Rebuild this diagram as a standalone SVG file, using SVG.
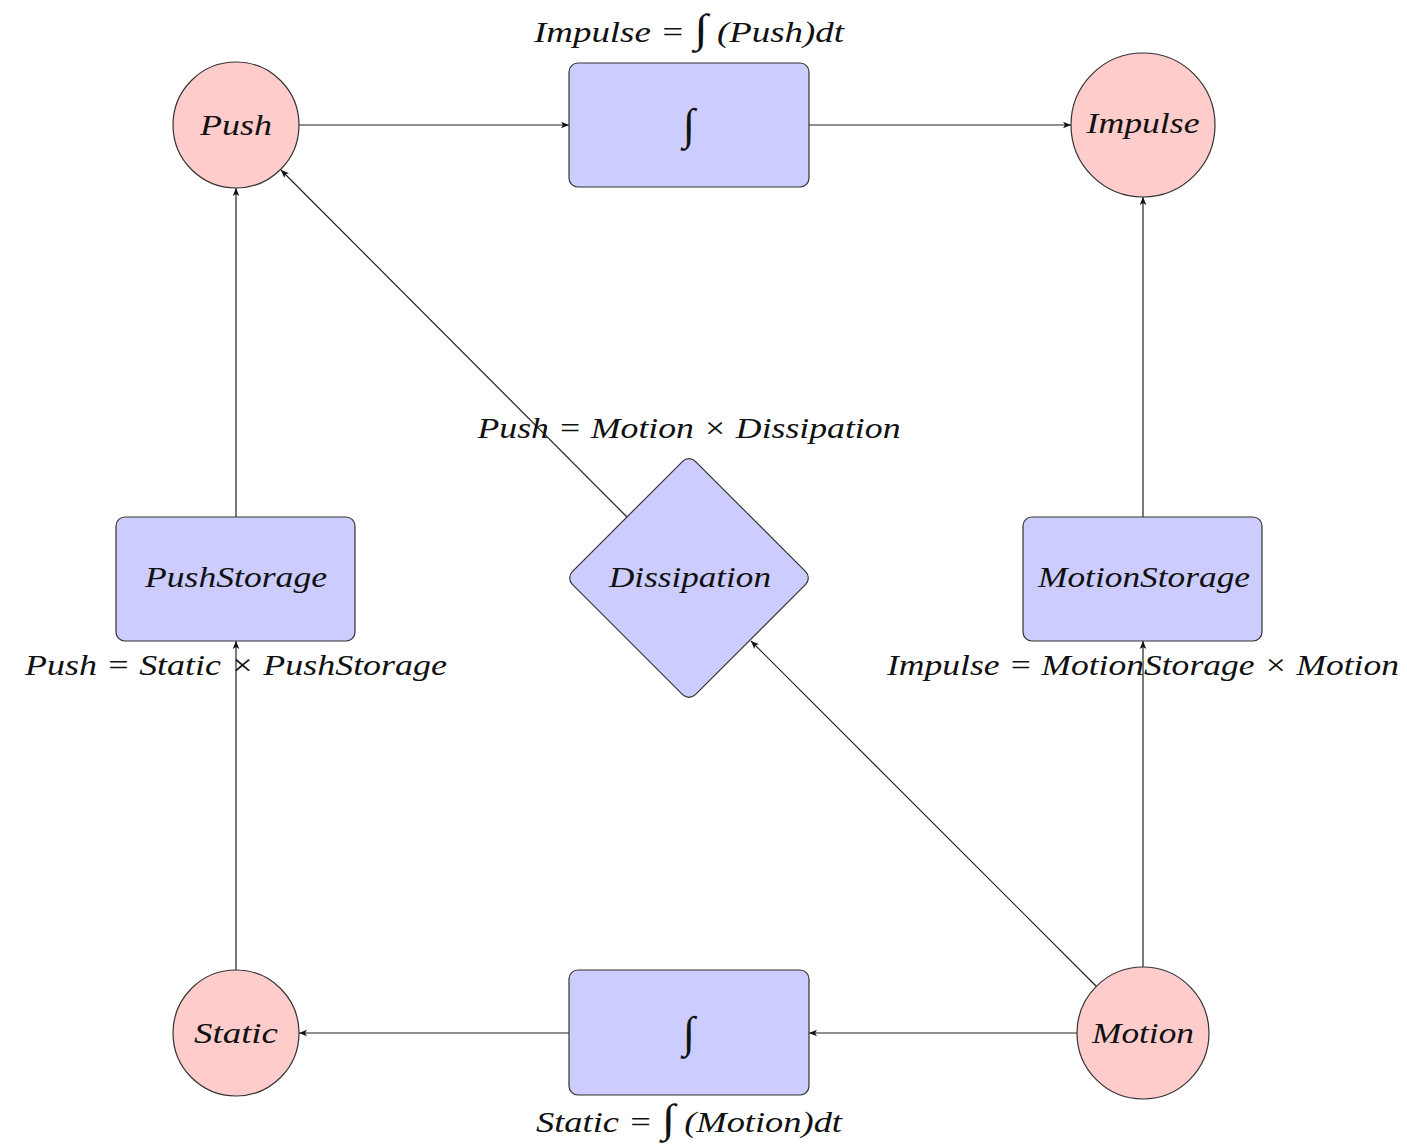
<svg xmlns="http://www.w3.org/2000/svg" width="1407" height="1144" viewBox="0 0 1407 1144">
<style>
.red{fill:#FFCCCC;stroke:#333;stroke-width:1.2}
.blue{fill:#CCCCFF;stroke:#333;stroke-width:1.2}
text{font-family:"Liberation Serif","DejaVu Serif",serif;font-style:italic;font-size:30px;fill:#111;text-anchor:middle}
.int{font-style:normal;font-family:"Liberation Serif",serif;font-size:44px}
.edge{stroke:#222;stroke-width:1.2;fill:none;marker-end:url(#arr)}
</style>
<defs>
<marker id="arr" viewBox="-10 -5 12 10" refX="0" refY="0" markerWidth="12" markerHeight="10" markerUnits="userSpaceOnUse" orient="auto">
<path d="M0,0 L-8,-3.3 L-6,0 L-8,3.3 Z" fill="#111"/>
</marker>
</defs>
<g id="connectors">
<line class="edge" x1="299" y1="125" x2="569" y2="125"/>
<line class="edge" x1="809" y1="125" x2="1071" y2="125"/>
<line class="edge" x1="1143" y1="517" x2="1143" y2="197"/>
<line class="edge" x1="1143" y1="967" x2="1143" y2="641"/>
<line class="edge" x1="1077" y1="1033" x2="809" y2="1033"/>
<line class="edge" x1="569" y1="1033" x2="299" y2="1033"/>
<line class="edge" x1="236" y1="970" x2="236" y2="641"/>
<line class="edge" x1="236" y1="517" x2="236" y2="188"/>
<line class="edge" x1="1096" y1="986" x2="751" y2="641"/>
<line class="edge" x1="627" y1="517" x2="281" y2="170"/>
</g>
<g id="push">
<circle class="red" cx="236" cy="125" r="63"/>
<text x="236" y="135" textLength="72" lengthAdjust="spacingAndGlyphs">Push</text>
</g>
<g id="impulse">
<circle class="red" cx="1143" cy="125" r="72"/>
<text x="1143" y="133" textLength="113" lengthAdjust="spacingAndGlyphs">Impulse</text>
</g>
<g id="static">
<circle class="red" cx="236" cy="1033" r="63"/>
<text x="236" y="1043" textLength="84" lengthAdjust="spacingAndGlyphs">Static</text>
</g>
<g id="motion">
<circle class="red" cx="1143" cy="1033" r="66"/>
<text x="1143" y="1043" textLength="102" lengthAdjust="spacingAndGlyphs">Motion</text>
</g>
<g id="integral-top">
<rect class="blue" x="569" y="63" width="240" height="124" rx="9"/>
<text class="int" x="689" y="139">∫</text>
<text x="689" y="42" textLength="310" lengthAdjust="spacingAndGlyphs">Impulse = <tspan style="font-style:normal;font-family:'Liberation Serif',serif;font-size:40px">∫</tspan> (Push)dt</text>
</g>
<g id="integral-bottom">
<rect class="blue" x="569" y="970" width="240" height="125" rx="9"/>
<text class="int" x="689" y="1047">∫</text>
<text x="689" y="1132" textLength="306" lengthAdjust="spacingAndGlyphs">Static = <tspan style="font-style:normal;font-family:'Liberation Serif',serif;font-size:40px">∫</tspan> (Motion)dt</text>
</g>
<g id="pushstorage">
<rect class="blue" x="116" y="517" width="239" height="124" rx="9"/>
<text x="236" y="587" textLength="182" lengthAdjust="spacingAndGlyphs">PushStorage</text>
<text x="236" y="675" textLength="422" lengthAdjust="spacingAndGlyphs">Push = Static × PushStorage</text>
</g>
<g id="motionstorage">
<rect class="blue" x="1023" y="517" width="239" height="124" rx="9"/>
<text x="1144" y="587" textLength="212" lengthAdjust="spacingAndGlyphs">MotionStorage</text>
<text x="1143" y="675" textLength="512" lengthAdjust="spacingAndGlyphs">Impulse = MotionStorage × Motion</text>
</g>
<g id="dissipation">
<rect class="blue" x="-87" y="-87" width="174" height="174" rx="9" transform="translate(689 578) rotate(45)"/>
<text x="690" y="587" textLength="162" lengthAdjust="spacingAndGlyphs">Dissipation</text>
<text x="689" y="438" textLength="423" lengthAdjust="spacingAndGlyphs">Push = Motion × Dissipation</text>
</g>
</svg>
